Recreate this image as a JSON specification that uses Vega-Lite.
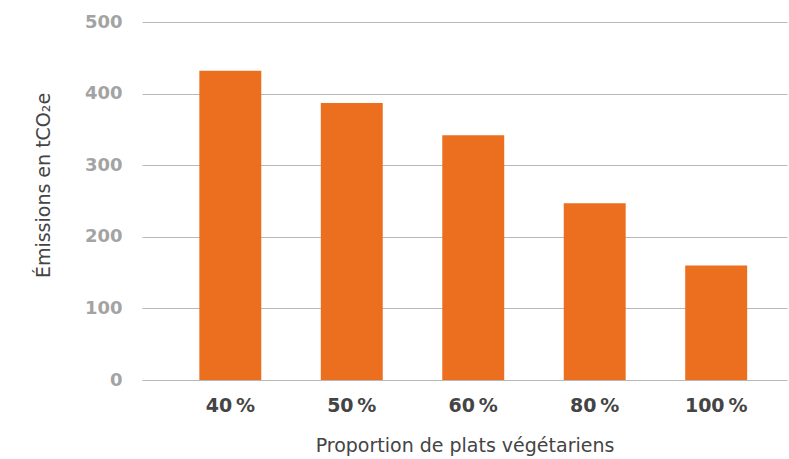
{
  "$schema": "https://vega.github.io/schema/vega-lite/v6.json",
  "width": 645,
  "height": 358,
  "autosize": "none",
  "padding": {"left": 142, "top": 22, "right": 2, "bottom": 79},
  "background": "white",
  "config": {
    "view": {"stroke": null},
    "font": "DejaVu Sans"
  },
  "data": {
    "values": [
      {"proportion": "40\u2009%", "emissions": 432},
      {"proportion": "50\u2009%", "emissions": 387},
      {"proportion": "60\u2009%", "emissions": 342},
      {"proportion": "80\u2009%", "emissions": 247},
      {"proportion": "100\u2009%", "emissions": 160}
    ]
  },
  "mark": {"type": "bar", "color": "#ec6f1f"},
  "encoding": {
    "x": {
      "field": "proportion",
      "type": "nominal",
      "sort": null,
      "scale": {"paddingInner": 0.49, "paddingOuter": 0.4, "align": 0.59},
      "axis": {
        "title": "Proportion de plats végétariens",
        "titleFont": "DejaVu Sans",
        "titleFontSize": 19,
        "titleFontWeight": "normal",
        "titleColor": "#444444",
        "titlePadding": 21,
        "labelAngle": 0,
        "labelFont": "DejaVu Sans",
        "labelFontSize": 19,
        "labelFontWeight": "bold",
        "labelColor": "#444444",
        "labelPadding": 16,
        "domain": false,
        "ticks": false,
        "grid": false
      }
    },
    "y": {
      "field": "emissions",
      "type": "quantitative",
      "scale": {"domain": [0, 500], "nice": false},
      "axis": {
        "title": "Émissions en tCO\u2082e",
        "titleFont": "DejaVu Sans",
        "titleFontSize": 19,
        "titleFontWeight": "normal",
        "titleColor": "#444444",
        "titleX": -99,
        "titleY": 163,
        "titleBaseline": "middle",
        "titleAlign": "center",
        "values": [0, 100, 200, 300, 400, 500],
        "labelFont": "DejaVu Sans",
        "labelFontSize": 18,
        "labelFontWeight": "bold",
        "labelColor": "#a3a3a3",
        "labelPadding": 20,
        "domain": false,
        "ticks": false,
        "grid": true,
        "gridColor": "#b8b8b8",
        "gridWidth": 1.2
      }
    }
  }
}
